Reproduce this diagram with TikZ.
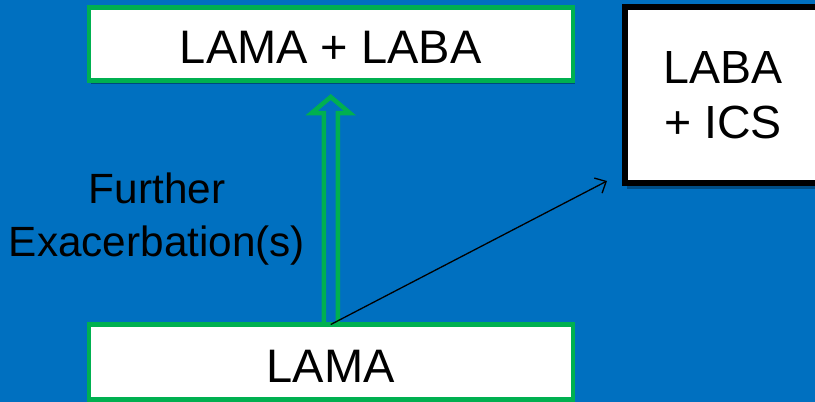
\documentclass[tikz,border=0pt]{standalone}
\usepackage{fontspec}
\setmainfont{Liberation Sans}
\usetikzlibrary{arrows.meta,shadows}
\definecolor{bgblue}{HTML}{0070C0}
\definecolor{boxgreen}{HTML}{00B050}
\tikzset{
  greenbox/.style={draw=boxgreen, line width=4.5pt, fill=white, outer sep=0pt,
    minimum width=484pt, inner sep=0pt, text depth=0pt,
    font=\fontsize{47}{55}\selectfont,
    drop shadow={shadow xshift=2pt, shadow yshift=-3pt, opacity=0.35, fill=black}},
  blackbox/.style={fill=white, outer sep=0pt,
    minimum width=200pt, minimum height=176pt, inner sep=0pt},
  blackedge/.style={draw=black, line width=5.5pt, line join=miter, line cap=butt},
  boxtext/.style={align=center, inner sep=0pt, font=\fontsize{46.5}{55}\selectfont},
  sidelabel/.style={align=center, inner sep=0pt, font=\fontsize{42.3}{53}\selectfont},
  hollowarrow/.style={draw=boxgreen, line width=4.5pt, line join=miter},
  thinarrow/.style={draw=black, line width=1.3pt, -{Straight Barb[length=9pt,width=17pt]}}
}
\begin{document}
\begin{tikzpicture}[x=1pt,y=-1pt]
\fill[bgblue] (0,0) rectangle (815,402);
\begin{scope}
\clip (0,0) rectangle (815,402);
\node[greenbox, minimum height=73pt, text height=38pt] (top) at (330.75,44) {LAMA + LABA};
\node[greenbox, minimum height=75pt, text height=40pt] (bot) at (330.75,362) {LAMA};
\fill[bgblue!70!black] (627,12) rectangle (830,189);
\node[blackbox] (rbox) at (725,95) {};
\draw[blackedge] (rbox.north east) -- (rbox.north west) -- (rbox.south west) -- (rbox.south east);
\end{scope}
\node[boxtext] (righttext) at (723,95) {LABA\\+ ICS};
\node[sidelabel] (lab) at (157,219.5) {Further\\Exacerbation(s)};
\coordinate (tipend) at (607,181);
\draw[hollowarrow] ([xshift=-7pt]bot.north)
  -- ([xshift=-7pt,yshift=-32.5pt]top.south)
  -- ([xshift=-19pt,yshift=-32.5pt]top.south)
  -- ([yshift=-16.5pt]top.south)
  -- ([xshift=19pt,yshift=-32.5pt]top.south)
  -- ([xshift=7pt,yshift=-32.5pt]top.south)
  -- ([xshift=7pt]bot.north);
\draw[thinarrow] (bot.north) -- (tipend);
\useasboundingbox (0,0) rectangle (815,402);
\end{tikzpicture}
\end{document}
